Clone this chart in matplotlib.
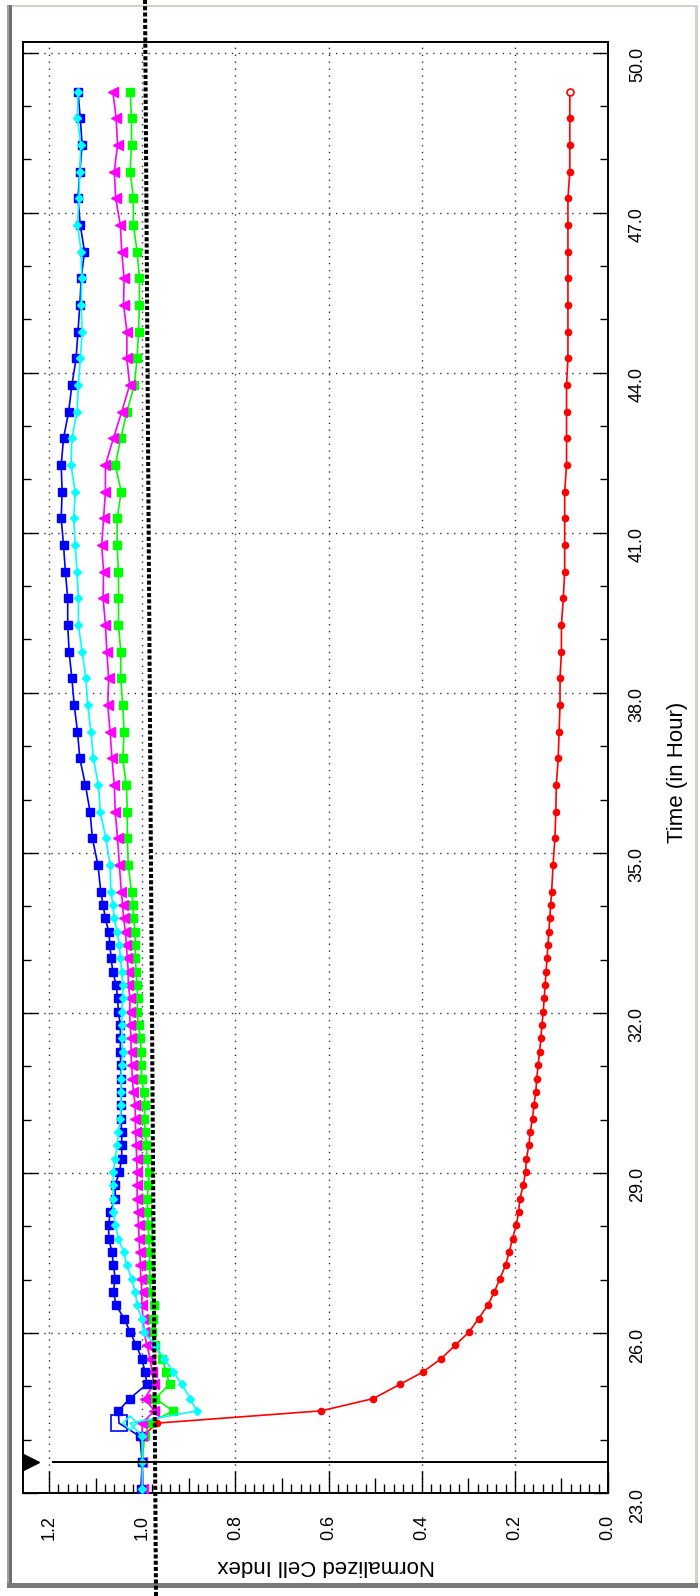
import matplotlib
matplotlib.use("Agg")
import matplotlib.pyplot as plt
import matplotlib.transforms as mtransforms
from matplotlib.lines import Line2D
from matplotlib.patches import Rectangle
from matplotlib.ticker import FixedLocator, MultipleLocator

plt.rcParams['font.family'] = ['Liberation Sans', 'DejaVu Sans']

W, H = 700, 1596

# ---------- data ----------
time_h = [23.08, 23.58, 24.06,
          24.31, 24.54, 24.77, 25.04, 25.27, 25.52, 25.77, 26.02, 26.27, 26.52, 26.77,
          27.02, 27.27, 27.52, 27.77, 28.02, 28.27, 28.52, 28.77, 29.02, 29.27, 29.52,
          29.77, 30.02, 30.27, 30.52, 30.77, 31.02, 31.27, 31.52, 31.77, 32.02, 32.27,
          32.52, 32.77, 33.02, 33.27, 33.52, 33.77, 34.02, 34.27,
          34.77, 35.27, 35.77, 36.27, 36.77, 37.27, 37.77, 38.27, 38.77, 39.27, 39.77,
          40.27, 40.77, 41.27, 41.77, 42.27, 42.77, 43.27, 43.77, 44.27, 44.77, 45.27,
          45.77, 46.27, 46.77, 47.27, 47.77, 48.27, 48.77, 49.27]

blue_ci = [1.003, 1.000, 1.005,
           1.050, 1.051, 1.027, 0.990, 0.994, 1.001, 1.013, 1.026, 1.039, 1.056, 1.062,
           1.058, 1.062, 1.065, 1.072, 1.072, 1.069, 1.058, 1.058, 1.049, 1.044, 1.044,
           1.044, 1.046, 1.046, 1.046, 1.046, 1.046, 1.047, 1.047, 1.047, 1.051, 1.053,
           1.056, 1.063, 1.067, 1.069, 1.072, 1.079, 1.084, 1.089,
           1.095, 1.107, 1.112, 1.122, 1.134, 1.139, 1.146, 1.151, 1.157, 1.160, 1.160,
           1.165, 1.169, 1.174, 1.172, 1.174, 1.169, 1.158, 1.151, 1.142, 1.138, 1.134,
           1.131, 1.124, 1.133, 1.138, 1.134, 1.129, 1.133, 1.138]

cyan_ci = [1.000, 1.000, 1.000,
           1.026, 0.883, 0.897, 0.915, 0.933, 0.953, 0.972, 0.997, 1.001, 1.011, 1.015,
           1.023, 1.033, 1.040, 1.051, 1.058, 1.062, 1.063, 1.062, 1.062, 1.058, 1.054,
           1.051, 1.047, 1.046, 1.046, 1.046, 1.044, 1.042, 1.044, 1.044, 1.044, 1.042,
           1.042, 1.044, 1.047, 1.049, 1.054, 1.060, 1.063, 1.067,
           1.069, 1.078, 1.090, 1.094, 1.105, 1.110, 1.117, 1.121, 1.129, 1.137, 1.137,
           1.140, 1.144, 1.147, 1.144, 1.153, 1.151, 1.140, 1.137, 1.133, 1.129, 1.131,
           1.130, 1.131, 1.139, 1.136, 1.134, 1.132, 1.139, 1.138]

magenta_ci = [0.998, 1.000, 1.000,
              1.000, 0.974, 0.995, 0.975, 0.979, 0.983, 0.990, 0.996, 0.998, 1.001, 1.001,
              1.003, 1.004, 1.005, 1.007, 1.008, 1.009, 1.011, 1.011, 1.011, 1.012, 1.013,
              1.014, 1.015, 1.015, 1.019, 1.021, 1.023, 1.024, 1.024, 1.026, 1.027, 1.026,
              1.030, 1.030, 1.032, 1.034, 1.036, 1.040, 1.042, 1.045,
              1.049, 1.053, 1.058, 1.060, 1.065, 1.069, 1.074, 1.072, 1.076, 1.079, 1.084,
              1.083, 1.087, 1.083, 1.079, 1.079, 1.062, 1.044, 1.027, 1.033, 1.033, 1.040,
              1.039, 1.044, 1.047, 1.057, 1.060, 1.053, 1.056, 1.063]

green_ci = [1.000, 1.000, 0.995,
            0.985, 0.934, 0.972, 0.941, 0.949, 0.957, 0.972, 0.980, 0.976, 0.974, 0.983,
            0.983, 0.984, 0.984, 0.986, 0.987, 0.989, 0.989, 0.987, 0.985, 0.990, 0.991,
            0.993, 0.996, 0.993, 0.997, 1.001, 1.002, 1.002, 1.004, 1.008, 1.011, 1.010,
            1.011, 1.013, 1.015, 1.015, 1.015, 1.019, 1.019, 1.023,
            1.030, 1.032, 1.032, 1.034, 1.042, 1.039, 1.042, 1.046, 1.046, 1.051, 1.051,
            1.051, 1.054, 1.054, 1.045, 1.058, 1.046, 1.033, 1.017, 1.011, 1.008, 1.006,
            1.006, 1.011, 1.019, 1.019, 1.026, 1.023, 1.023, 1.026]

red_ci = [1.000, 1.000, 1.000,
          0.968, 0.616, 0.504, 0.446, 0.397, 0.358, 0.328, 0.298, 0.278, 0.258, 0.244,
          0.232, 0.220, 0.212, 0.205, 0.197, 0.192, 0.189, 0.182, 0.177, 0.175, 0.170,
          0.167, 0.162, 0.159, 0.155, 0.153, 0.150, 0.147, 0.144, 0.142, 0.139, 0.137,
          0.135, 0.133, 0.131, 0.129, 0.127, 0.125, 0.123, 0.121,
          0.118, 0.114, 0.112, 0.111, 0.107, 0.105, 0.103, 0.103, 0.100, 0.100, 0.096,
          0.093, 0.093, 0.093, 0.093, 0.089, 0.089, 0.089, 0.089, 0.086, 0.086, 0.086,
          0.086, 0.086, 0.086, 0.086, 0.082, 0.082, 0.082, 0.082]

norm_time = 23.58
time_ticks = [23, 26, 29, 32, 35, 38, 41, 44, 47, 50]
ci_ticks = [0.0, 0.2, 0.4, 0.6, 0.8, 1.0, 1.2]
ci_mid_ticks = [0.1, 0.3, 0.5, 0.7, 0.9, 1.1]


def fx(x):
    return x / W


def fy(y):
    return 1 - y / H


fig = plt.figure(figsize=(W / 100, H / 100), dpi=100)
fig.patch.set_facecolor('white')

# ---------- panel border ----------
for x0, y0, x1, y1, c in [(7, 5, 698, 7, '#d4d0c8'),
                          (695, 5, 698, 1588, '#d4d0c8'),
                          (7, 5, 9, 1588, '#a0a0a0'),
                          (9, 5, 12, 1588, '#707070'),
                          (7, 1583, 698, 1588, '#7a7a7a')]:
    fig.add_artist(Rectangle((fx(x0), fy(y1)), (x1 - x0) / W, (y1 - y0) / H,
                             transform=fig.transFigure, color=c, lw=0, zorder=-1))

ax = fig.add_axes([fx(23), fy(1493), 585 / W, 1451 / H])
ax.set_xlim(1.256, 0)
ax.set_ylim(23, 50.2)
for s in ax.spines.values():
    s.set_linewidth(1.4)
    s.set_color('black')

ax.xaxis.set_major_locator(FixedLocator(ci_ticks))
ax.xaxis.set_minor_locator(FixedLocator([i * 0.02 for i in range(61) if i % 5]))
ax.yaxis.set_major_locator(FixedLocator(time_ticks))
ax.yaxis.set_minor_locator(MultipleLocator(1))
ax.set_xticklabels([f"{v:.1f}" for v in ci_ticks], rotation=90)
ax.set_yticklabels([f"{v:.1f}" for v in time_ticks], rotation=90, va='center')

ax.tick_params(axis='y', which='both', direction='in', left=True, right=True,
               labelleft=False, labelright=True, labelsize=13, pad=15, width=1)
ax.tick_params(axis='y', which='major', length=11)
ax.tick_params(axis='y', which='minor', length=6)
ax.tick_params(axis='x', which='both', direction='in', bottom=True, top=False,
               labelsize=13, pad=16, width=1)
ax.tick_params(axis='x', which='major', length=16)
ax.tick_params(axis='x', which='minor', length=6.5)
ax.vlines(ci_mid_ticks, 0, 15 / 1451, transform=ax.get_xaxis_transform(),
          colors='black', lw=1)

ax.grid(True, which='major', color='#303030', linestyle=(0, (1, 4)), linewidth=1.0)
ax.set_axisbelow(True)

n = len(time_h)
ax.plot(red_ci, time_h, color='#ff0000', lw=1.2, marker='o', ms=4.5,
        markevery=list(range(n - 1)), zorder=3)
ax.plot(red_ci[-1:], time_h[-1:], ls='none', marker='o', ms=5, mfc='white',
        mec='#ff0000', mew=1.2, zorder=3)
ax.plot(green_ci, time_h, color='#00ff00', lw=1.2, marker='s', ms=6, zorder=3)
ax.plot(magenta_ci, time_h, color='#ff00ff', lw=1.2, marker='<', ms=6.5, zorder=3)
ax.plot(blue_ci, time_h, color='#0000ff', lw=1.2, marker='s', ms=6,
        markevery=[i for i in range(n) if i != 3], zorder=3)
ax.plot(blue_ci[3:4], time_h[3:4], ls='none', marker='s', ms=11, mfc='none',
        mec='#0000ff', mew=1.2, zorder=3)
ax.plot(cyan_ci, time_h, color='#00ffff', lw=1.2, marker='D', ms=4,
        markevery=[i for i in range(n) if i != 3], zorder=3)
ax.plot(cyan_ci[3:4], time_h[3:4], ls='none', marker='D', ms=7, mfc='none',
        mec='#00ffff', mew=1.2, zorder=3)

# normalization marker
ax.hlines(norm_time, 0, 1.193, colors='black', lw=1.4, zorder=4)
ax.plot([1.239], [norm_time], marker='>', ms=11, color='black', clip_on=False, zorder=4)

# shift time labels a little downwards
offset = mtransforms.ScaledTranslation(0, -12 / 100, fig.dpi_scale_trans)
for lab in ax.get_yticklabels():
    lab.set_transform(lab.get_transform() + offset)

fig.text(fx(677), fy(772), "Time (in Hour)", rotation=90, ha='center', va='center',
         fontsize=16)
fig.text(fx(326), fy(1565), "Normalized Cell Index", rotation=180, ha='center',
         va='center', fontsize=16)

# thick dotted overlay line
fig.add_artist(Line2D([fx(145), fx(156)], [1, 0], transform=fig.transFigure,
                      color='black', lw=2.9, linestyle=(0, (1.0, 0.55)),
                      dash_capstyle='butt', zorder=10))

fig.savefig("out.png", dpi=100)
